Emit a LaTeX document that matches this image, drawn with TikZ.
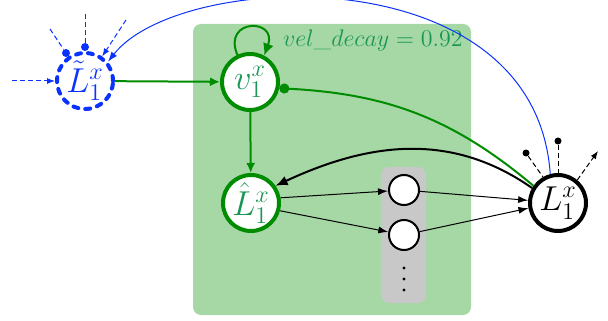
\documentclass[tikz,border=0pt]{standalone}
\usetikzlibrary{arrows.meta}
\definecolor{boxgreen}{RGB}{165,216,165}
\definecolor{boxgray}{RGB}{200,200,200}
\definecolor{ringgreen}{RGB}{0,140,0}
\definecolor{labgreen}{RGB}{25,150,85}
\definecolor{linkblue}{RGB}{10,50,255}
\tikzset{
  unit/.style={circle, inner sep=0pt, minimum size=28pt, line width=2pt, fill=white, font=\LARGE},
  greenunit/.style={unit, draw=ringgreen, text=labgreen},
  hidden/.style={circle, inner sep=0pt, minimum size=15pt, line width=1pt, draw=black, fill=white},
  greenarrow/.style={line width=1pt, ringgreen, -{Latex[length=5pt,width=4.5pt]}},
  thinarrow/.style={line width=0.5pt, black, -{Latex[length=5pt,width=3.5pt]}},
  bluedash/.style={linkblue, line width=0.5pt, dash pattern=on 2.5pt off 1.5pt},
  blackdash/.style={black, line width=0.5pt, dash pattern=on 2.5pt off 1.5pt},
  pin/.style={circle, inner sep=0pt, minimum size=4pt},
}
\begin{document}
\begin{tikzpicture}[x=0.5pt, y=-0.5pt]
\useasboundingbox (0,0) rectangle (608,320);

% panels
\fill[boxgreen, rounded corners=4pt] (193,24) rectangle (471,315);
\fill[boxgray, rounded corners=4pt] (381,167) rectangle (426,303);

% units
\node[unit, draw=linkblue, text=linkblue, fill=none, dash pattern=on 2.5pt off 3.5pt, line cap=round] (lt) at (85,81) {$\tilde{L}_1^x$};
\node[greenunit] (v) at (250,82) {$v_1^x$};
\node[greenunit] (lh) at (251,203) {$\hat{L}_1^x$};
\node[unit, draw=black] (L) at (558,203) {$L_1^x$};
\node[hidden] (h1) at (404,190) {};
\node[hidden] (h2) at (404,235) {};
\foreach \yy in {268,279,290} \fill (404,\yy) circle (0.8pt);

\node[labgreen, font=\large, anchor=west] (decay) at (276,41) {$vel\_decay = 0.92$};

% recurrent and feed-forward connections
\draw[greenarrow] (lt) -- (v);
\draw[greenarrow] (v) -- (lh);
\draw[greenarrow, -{Latex[length=6pt,width=5.5pt]}] (v.115) .. controls (222,18) and (278,18) .. (v.62);
\draw[ringgreen, line width=1pt, {Circle[length=5pt]}-] (v.-12) to[out=-3, in=140] (L.145);
\draw[black, line width=1pt, -{Latex[length=6pt,width=5pt]}] (L.150) to[out=145, in=25] (lh.35);
\draw[thinarrow] (lh.10) -- (h1);
\draw[thinarrow] (lh.-15) -- (h2);
\draw[thinarrow] (h1) -- (L.175);
\draw[thinarrow] (h2) -- (L.190);
\draw[linkblue, line width=0.5pt, -{Latex[length=5pt,width=3.5pt]}] (L.105) .. controls (535,-45) and (180,-30) .. (lt.40);

% inputs around the tilde unit
\coordinate (in0) at (12,81);
\coordinate (in1) at (50,29);
\coordinate (in2) at (85,14);
\coordinate (in3) at (126,20);
\node[pin, fill=linkblue] (p1) at (66,53) {};
\node[pin, fill=linkblue] (p2) at (85,47) {};
\draw[bluedash, -{Latex[length=4pt,width=3pt]}] (in0) -- (lt);
\draw[bluedash] (in1) -- (p1);
\draw[bluedash] (in2) -- (p2);
\draw[bluedash, -{Latex[length=4pt,width=3pt]}] (in3) -- (lt.55);

% inputs and outputs around the output unit
\coordinate (out1) at (598,151);
\node[pin, fill=black, minimum size=3.5pt] (q1) at (526,153) {};
\node[pin, fill=black, minimum size=3.5pt] (q2) at (558,141) {};
\draw[blackdash] (q1) -- (L.120);
\draw[blackdash] (q2) -- (L.90);
\draw[blackdash, -{Latex[length=4pt,width=3pt]}] (L.50) -- (out1);
\end{tikzpicture}
\end{document}
